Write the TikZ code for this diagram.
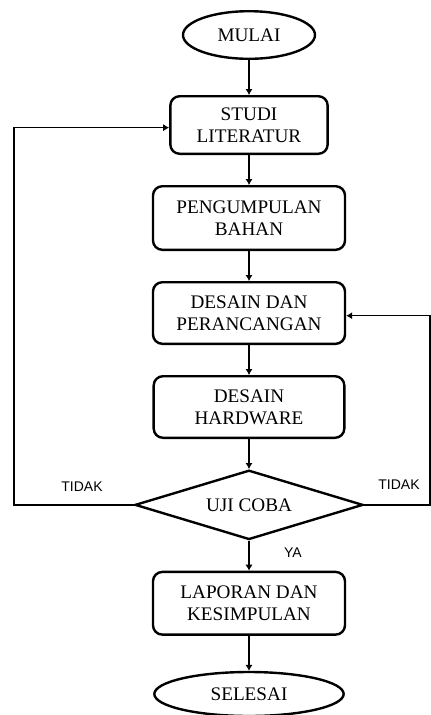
\documentclass[tikz,border=0pt]{standalone}
\usepackage{fontspec}
\setmainfont{Liberation Serif}
\newfontfamily\lblfont{Liberation Sans}
\usetikzlibrary{positioning,arrows.meta,shapes.geometric}
\tikzset{
  box/.style={draw, line width=1.8pt, rounded corners=7pt, align=center, inner sep=0pt, font=\fontsize{14.4}{16.5}\selectfont},
  term/.style={draw, line width=1.8pt, ellipse, align=center, inner sep=0pt, font=\fontsize{14.4}{16.5}\selectfont},
  decide/.style={draw, line width=1.8pt, diamond, aspect=3.2, inner sep=0pt, font=\fontsize{14.4}{16.5}\selectfont},
  arrow/.style={-{Latex[length=4.5pt,width=5.5pt]}, line width=1.1pt},
  lbl/.style={font=\lblfont\fontsize{10.5}{12}\selectfont}
}

\begin{document}
\begin{tikzpicture}[x=0.75pt, y=-0.75pt, node distance=22.5pt]
    \useasboundingbox (0,0) rectangle (431,715);
    \node[term, minimum width=99pt, minimum height=35.7pt] (mulai) at (249,35) {MULAI};
    \node[box, minimum width=118pt, minimum height=43.2pt, below=26.25pt of mulai] (studi) {STUDI\\LITERATUR};
    \node[box, minimum width=144pt, minimum height=47.7pt, below=of studi] (bahan) {PENGUMPULAN\\BAHAN};
    \node[box, minimum width=144pt, minimum height=46.2pt, below=of bahan] (desain) {DESAIN DAN\\PERANCANGAN};
    \node[box, minimum width=143pt, minimum height=46.2pt, below=of desain] (hw) {DESAIN\\HARDWARE};
    \node[decide, minimum width=171pt, minimum height=52pt, below=of hw] (uji) {UJI COBA};
    \node[box, minimum width=144pt, minimum height=47pt, below=of uji] (lapor) {LAPORAN DAN\\KESIMPULAN};
    \node[term, minimum width=142pt, minimum height=33pt, below=26.25pt of lapor] (selesai) {SELESAI};
    \coordinate (kiri) at (14,0);
    \coordinate (kanan) at (430,0);
    \draw[arrow] (mulai) -- (studi);
    \draw[arrow] (studi) -- (bahan);
    \draw[arrow] (bahan) -- (desain);
    \draw[arrow] (desain) -- (hw);
    \draw[arrow] (hw) -- (uji);
    \draw[arrow] (uji) -- (lapor);
    \draw[arrow] (lapor) -- (selesai);
    \draw[arrow] (uji.west) -- (uji.west -| kiri) |- ([yshift=-2pt]studi.west);
    \draw[arrow] (uji.east) -- (uji.east -| kanan) |- ([yshift=-2pt]desain.east);
    \node[lbl] (tidakkiri) at (82,487) {TIDAK};
    \node[lbl] (tidakkanan) at (399,485) {TIDAK};
    \node[lbl] (ya) at (293,553) {YA};
  \end{tikzpicture}
\end{document}
